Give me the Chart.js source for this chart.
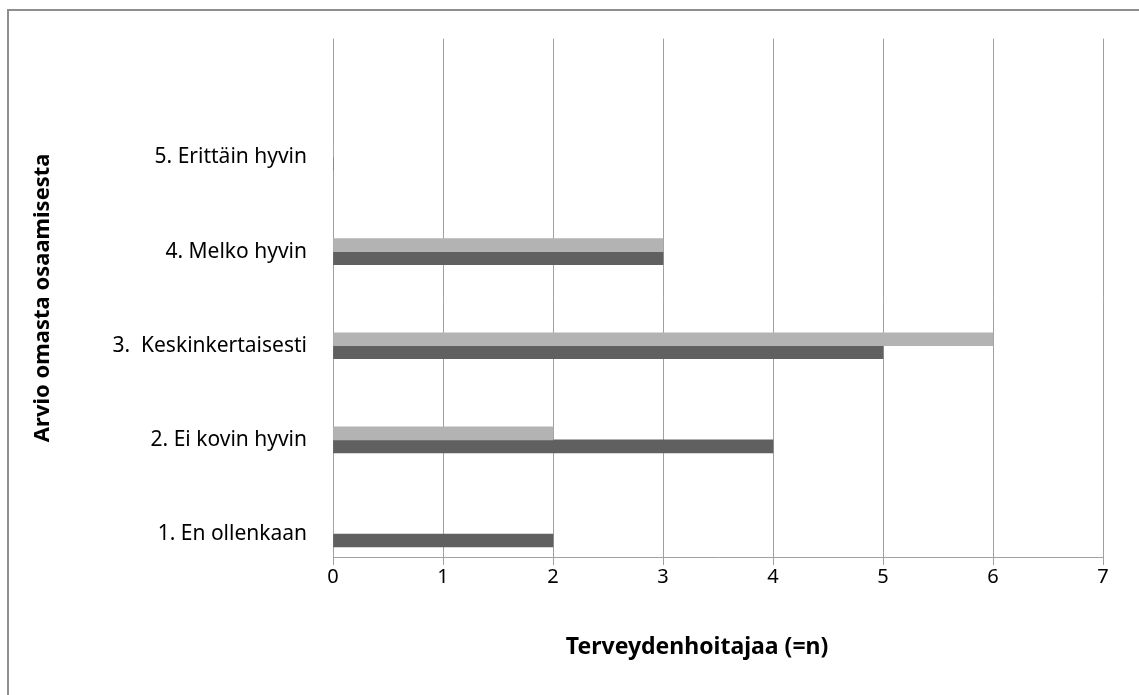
<!DOCTYPE html>
<html>
<head>
<meta charset="utf-8">
<script src="https://cdn.jsdelivr.net/npm/chart.js@4"></script>
<style>
  html, body { margin: 0; padding: 0; background: #fff; }
  #frame {
    position: absolute; left: 7px; top: 9px; width: 1130px; height: 700px;
    border-top: 2px solid #8e8e8e; border-left: 2px solid #8e8e8e; border-right: 2px solid #8e8e8e;
  }
  #wrap { position: absolute; left: 0; top: 0; width: 1139px; height: 695px; }
</style>
</head>
<body>
<div id="frame"></div>
<div id="wrap"><canvas id="chart" width="1139" height="695"></canvas></div>
<script>
'use strict';

// category labels, bottom to top
var categories = ['1. En ollenkaan', '2. Ei kovin hyvin', '3.  Keskinkertaisesti', '4. Melko hyvin', '5. Erittäin hyvin'];
var positions = [1, 2, 3, 4, 5];
var seriesLight = [0, 2, 6, 3, 0];
var seriesDark = [2, 4, 5, 3, 0];
var xTicks = [0, 1, 2, 3, 4, 5, 6, 7];

var fontFamily = '"Noto Sans", "Open Sans", sans-serif';

function toPoints(values) {
  return values.map((v, i) => ({ x: v, y: positions[i] }));
}

var ctx = document.getElementById('chart').getContext('2d');
var chart = new Chart(ctx, {
  type: 'bar',
  data: {
    datasets: [{
      label: 'Sarja 2',
      data: toPoints(seriesLight),
      backgroundColor: '#b3b3b3',
      barThickness: 13
    }, {
      label: 'Sarja 1',
      data: toPoints(seriesDark),
      backgroundColor: '#606060',
      barThickness: 13
    }]
  },
  options: {
    indexAxis: 'y',
    responsive: false,
    animation: false,
    layout: { padding: { top: 38, right: 36, left: 0, bottom: 0 } },
    plugins: { legend: { display: false }, tooltip: { enabled: false } },
    scales: {
      x: {
        type: 'linear',
        min: 0,
        max: 7,
        afterBuildTicks: axis => { axis.ticks = xTicks.map(v => ({ value: v })); },
        afterFit: scale => { scale.height = 695 - 557; },
        grid: { color: '#a0a0a0', lineWidth: 1, tickLength: 8, drawTicks: true },
        border: { color: '#a0a0a0', width: 1 },
        ticks: { color: '#000', padding: 0, font: { family: fontFamily, size: 20 } },
        title: {
          display: true,
          // trailing spaces shift the title a little left, as in the original
          text: 'Terveydenhoitajaa (=n)\u00a0\u00a0\u00a0\u00a0\u00a0\u00a0\u00a0',
          color: '#000',
          padding: { top: 0, bottom: 34 },
          font: { family: fontFamily, size: 23, weight: 'bold' }
        }
      },
      y: {
        type: 'linear',
        offset: false,
        min: 0.756,
        max: 6.263,
        afterBuildTicks: axis => { axis.ticks = positions.map(v => ({ value: v })); },
        afterFit: scale => { scale.width = 333; },
        grid: { display: false, drawTicks: false },
        border: { display: false },
        ticks: {
          color: '#000',
          padding: 26,
          font: { family: fontFamily, size: 21 },
          callback: v => categories[positions.indexOf(v)] || ''
        },
        title: {
          display: true,
          text: 'Arvio omasta osaamisesta',
          color: '#000',
          padding: { top: 30, bottom: 0 },
          font: { family: fontFamily, size: 22, weight: 'bold' }
        }
      }
    }
  }
});
</script>
</body>
</html>
